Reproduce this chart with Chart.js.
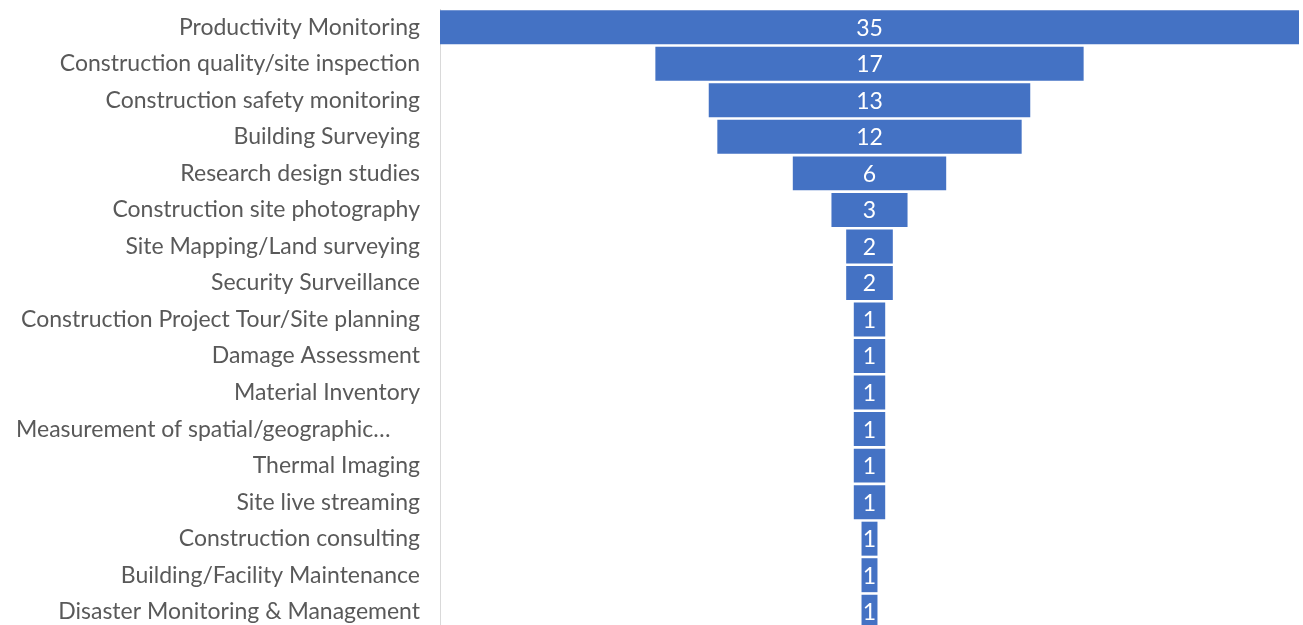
<!DOCTYPE html>
<html>
<head>
<meta charset="utf-8">
<script src="https://cdn.jsdelivr.net/npm/chart.js@4.4.0/dist/chart.umd.min.js"></script>
<style>
  html, body { margin: 0; padding: 0; background: #ffffff; overflow: hidden; }
  #wrap { position: relative; width: 1303px; height: 630px; }
</style>
</head>
<body>
<div id="wrap"><canvas id="c" width="1303" height="630"></canvas></div>
<script>
// Categories (top to bottom)
const categories = [
  "Productivity Monitoring",
  "Construction quality/site inspection",
  "Construction safety monitoring",
  "Building Surveying",
  "Research design studies",
  "Construction site photography",
  "Site Mapping/Land surveying",
  "Security Surveillance",
  "Construction Project Tour/Site planning",
  "Damage Assessment",
  "Material Inventory",
  "Measurement of spatial/geographic\u2026     ",
  "Thermal Imaging",
  "Site live streaming",
  "Construction consulting",
  "Building/Facility Maintenance",
  "Disaster Monitoring & Management"
];
// Values (labels shown rounded, as in the reference)
const values = [35, 17.45, 13.1, 12.4, 6.25, 3.1, 1.9, 1.9, 1.28, 1.28, 1.28, 1.28, 1.28, 1.28, 0.65, 0.65, 0.65];
const valueLabels = values.map(v => String(Math.round(v)));

const maxVal = 35;
const funnelData = values.map(v => [-v / 2, v / 2]);

const FONT = "Lato, 'Open Sans', sans-serif";
const FONT_SIZE = 23;

const barLabels = {
  id: 'barLabels',
  afterDatasetsDraw(chart) {
    const ctx = chart.ctx;
    const meta = chart.getDatasetMeta(0);
    ctx.save();
    ctx.fillStyle = '#ffffff';
    ctx.font = FONT_SIZE + 'px ' + FONT;
    ctx.textAlign = 'center';
    ctx.textBaseline = 'middle';
    meta.data.forEach((bar, i) => {
      const p = bar.getProps(['x', 'base', 'y'], true);
      ctx.fillText(valueLabels[i], (p.x + p.base) / 2, p.y + 1);
    });
    ctx.restore();
  }
};

new Chart(document.getElementById('c'), {
  type: 'bar',
  data: {
    labels: categories,
    datasets: [{
      data: funnelData,
      backgroundColor: '#4472C4',
      borderWidth: 0,
      borderSkipped: false,
      categoryPercentage: 1,
      barPercentage: 0.93
    }]
  },
  options: {
    indexAxis: 'y',
    responsive: false,
    animation: false,
    maintainAspectRatio: false,
    layout: { padding: { top: 9, right: 4, bottom: 0, left: 0 } },
    plugins: { legend: { display: false }, tooltip: { enabled: false } },
    scales: {
      x: {
        display: false,
        min: -maxVal / 2,
        max: maxVal / 2
      },
      y: {
        grid: { display: false },
        border: { display: true, color: '#d9d9d9', width: 1 },
        ticks: {
          color: '#595959',
          font: { family: FONT, size: FONT_SIZE },
          padding: 12,
          autoSkip: false
        },
        afterFit(scale) {
          scale.width = 440;
          scale.paddingTop = 0;
          scale.paddingBottom = 0;
        }
      }
    }
  },
  plugins: [barLabels]
});
</script>
</body>
</html>
